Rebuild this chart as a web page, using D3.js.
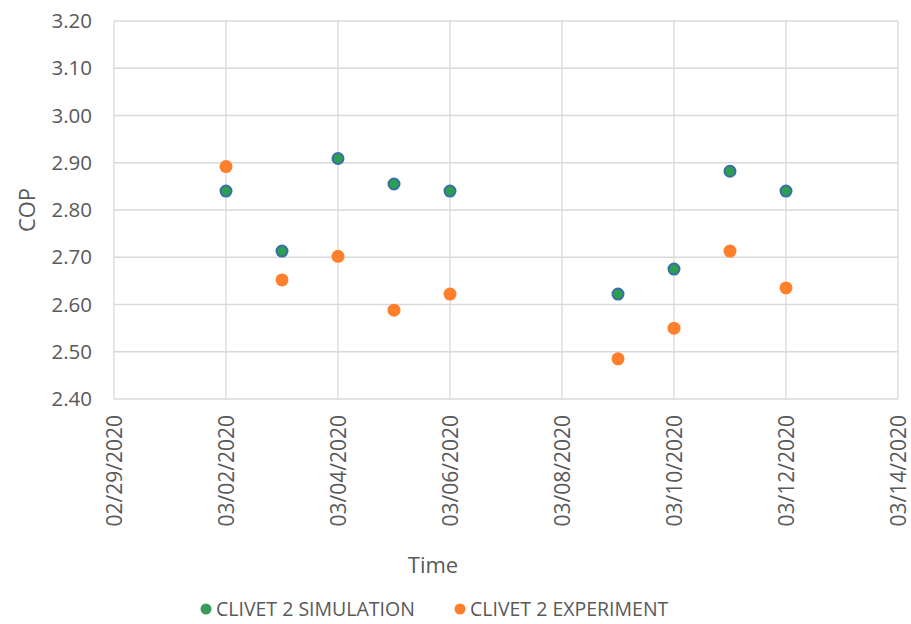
<!DOCTYPE html>
<meta charset="utf-8">
<style>
body { margin: 0; background: #fff; }
text { font-family: "Open Sans", sans-serif; fill: #595959; }
.grid line { stroke: #d9d9d9; stroke-width: 1.3; }
</style>
<body>
<script src="https://d3js.org/d3.v7.min.js"></script>
<script>
// data
var dates = ["2020-03-02", "2020-03-03", "2020-03-04", "2020-03-05", "2020-03-06",
             "2020-03-09", "2020-03-10", "2020-03-11", "2020-03-12"];
var simulation = [2.84, 2.713, 2.909, 2.855, 2.84, 2.622, 2.675, 2.882, 2.84];
var experiment = [2.892, 2.652, 2.702, 2.588, 2.622, 2.485, 2.55, 2.713, 2.635];
var yTicks = [2.40, 2.50, 2.60, 2.70, 2.80, 2.90, 3.00, 3.10, 3.20];
var xTickDates = ["2020-02-29", "2020-03-02", "2020-03-04", "2020-03-06",
                  "2020-03-08", "2020-03-10", "2020-03-12", "2020-03-14"];
var seriesNames = ["CLIVET 2 SIMULATION", "CLIVET 2 EXPERIMENT"];

var parse = d3.utcParse("%Y-%m-%d");
var fmt = d3.utcFormat("%m/%d/%Y");

var W = 911, H = 624;
var margin = {top: 21, right: 13, bottom: 225, left: 114};
var width = W - margin.left - margin.right,
    height = H - margin.top - margin.bottom;

var x = d3.scaleUtc()
    .domain([parse("2020-02-29"), parse("2020-03-14")])
    .range([0, width]);
var y = d3.scaleLinear()
    .domain([2.4, 3.2])
    .range([height, 0]);

var svg = d3.select("body").append("svg")
    .attr("width", W)
    .attr("height", H)
  .append("g")
    .attr("transform", "translate(" + margin.left + "," + margin.top + ")");

// gridlines
svg.append("g").attr("class", "grid")
    .selectAll("line").data(yTicks).join("line")
    .attr("x1", 0).attr("x2", width)
    .attr("y1", d => y(d)).attr("y2", d => y(d));
svg.append("g").attr("class", "grid")
    .selectAll("line").data(xTickDates).join("line")
    .attr("y1", 0).attr("y2", height)
    .attr("x1", d => x(parse(d))).attr("x2", d => x(parse(d)));

// y axis
var yAxis = svg.append("g")
    .call(d3.axisLeft(y).tickValues(yTicks).tickFormat(d3.format(".2f")).tickSize(0).tickPadding(22));
yAxis.select(".domain").remove();
yAxis.selectAll("text").style("font-size", "20.5px").attr("fill", "#595959");

// x axis
var xAxis = svg.append("g")
    .attr("transform", "translate(0," + height + ")")
    .call(d3.axisBottom(x).tickValues(xTickDates.map(parse)).tickFormat(fmt).tickSize(0));
xAxis.select(".domain").remove();
xAxis.selectAll("text")
    .style("font-size", "21px")
    .attr("fill", "#595959")
    .attr("text-anchor", "end")
    .attr("dy", "0.35em")
    .attr("transform", "translate(0,16) rotate(-90)")
    .attr("x", 0).attr("y", 0);

// axis titles
svg.append("text")
    .attr("x", 433 - margin.left)
    .attr("y", 573 - margin.top)
    .attr("text-anchor", "middle")
    .style("font-size", "22px")
    .text("Time");
svg.append("text")
    .attr("transform", "translate(" + (35 - margin.left) + "," + (210 - margin.top) + ") rotate(-90)")
    .attr("text-anchor", "middle")
    .style("font-size", "22px")
    .text("COP");

// points
var sim = dates.map((d, i) => ({date: parse(d), v: simulation[i]}));
var exp = dates.map((d, i) => ({date: parse(d), v: experiment[i]}));

svg.append("g").selectAll("circle").data(exp).join("circle")
    .attr("cx", d => x(d.date)).attr("cy", d => y(d.v))
    .attr("r", 6.5)
    .attr("fill", "#ff7f2a");
svg.append("g").selectAll("circle").data(sim).join("circle")
    .attr("cx", d => x(d.date)).attr("cy", d => y(d.v))
    .attr("r", 5.5)
    .attr("fill", "#2ca04c")
    .attr("stroke", "#3a6ea8")
    .attr("stroke-width", 2);

// legend
var legend = d3.select("svg").append("g").attr("transform", "translate(0,609)");
var legendX = [206, 460];
var legendColors = ["#3c9a5c", "#ff7f2a"];
seriesNames.forEach(function(name, i) {
  legend.append("circle")
      .attr("cx", legendX[i]).attr("cy", 0).attr("r", 5.5)
      .attr("fill", legendColors[i]);
  legend.append("text")
      .attr("x", legendX[i] + 10).attr("y", 0)
      .attr("dy", "0.35em")
      .style("font-size", "19.5px")
      .text(name);
});
</script>
</body>
